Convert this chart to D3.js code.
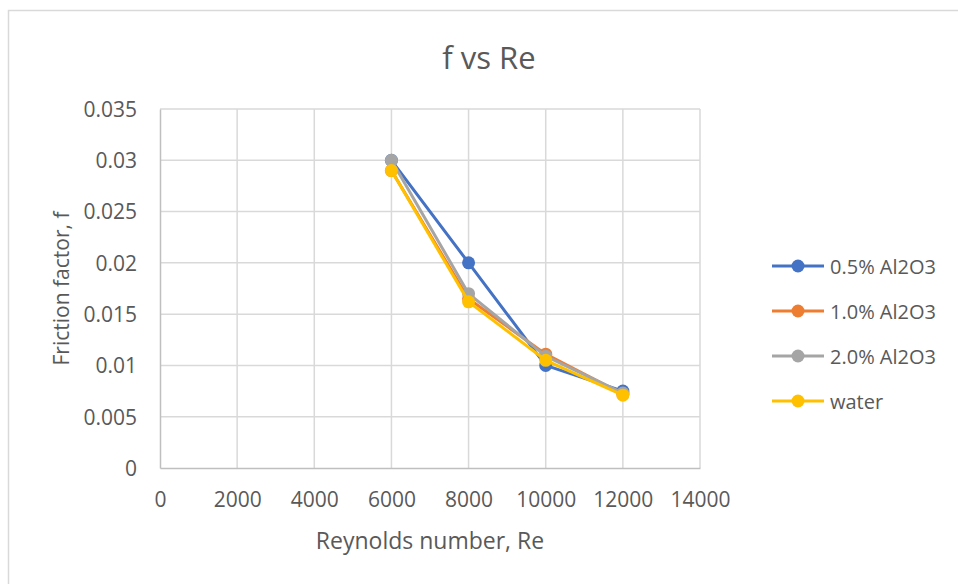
<!DOCTYPE html>
<html>
<head>
<meta charset="utf-8">
<script src="https://cdn.jsdelivr.net/npm/d3@7"></script>
<style>
  html, body { margin: 0; padding: 0; background: #ffffff; }
  svg { display: block; font-family: "Open Sans", sans-serif; }
</style>
</head>
<body>
<svg id="chart" width="958" height="584"></svg>
<script>
// Reynolds numbers tested
const reynolds = [6000, 8000, 10000, 12000];

// Friction factor per fluid
const seriesNames = ["0.5% Al2O3", "1.0% Al2O3", "2.0% Al2O3", "water"];
const al05 = [0.030, 0.020, 0.0100, 0.0075];
const al10 = [0.029, 0.0165, 0.0111, 0.0072];
const al20 = [0.030, 0.017, 0.0109, 0.0073];
const water = [0.029, 0.0162, 0.0105, 0.0071];
const seriesColors = ["#4472C4", "#ED7D31", "#A5A5A5", "#FFC000"];

// Axis ticks
const xTicks = [0, 2000, 4000, 6000, 8000, 10000, 12000, 14000];
const yTicks = [0, 0.005, 0.01, 0.015, 0.02, 0.025, 0.03, 0.035];

const series = [al05, al10, al20, water].map((vals, i) => ({
  name: seriesNames[i],
  color: seriesColors[i],
  points: vals.map((v, j) => ({ re: reynolds[j], f: v }))
}));

const textColor = "#595959";
const svg = d3.select("#chart");

// Chart frame
svg.append("rect")
  .attr("x", 8.5).attr("y", 10.5)
  .attr("width", 1000).attr("height", 1000)
  .attr("fill", "#ffffff")
  .attr("stroke", "#d9d9d9").attr("stroke-width", 1.5);

const plot = { left: 160, right: 700, top: 109, bottom: 468 };

const x = d3.scaleLinear().domain([0, 14000]).range([plot.left, plot.right]);
const y = d3.scaleLinear().domain([0, 0.035]).range([plot.bottom, plot.top]);

// Gridlines
const grid = svg.append("g");
grid.selectAll("line.v").data(xTicks.slice(1)).join("line")
  .attr("x1", d => x(d)).attr("x2", d => x(d))
  .attr("y1", plot.top).attr("y2", plot.bottom)
  .attr("stroke", "#d9d9d9").attr("stroke-width", 1.5);
grid.selectAll("line.h").data(yTicks.slice(1)).join("line")
  .attr("x1", plot.left).attr("x2", plot.right)
  .attr("y1", d => y(d)).attr("y2", d => y(d))
  .attr("stroke", "#d9d9d9").attr("stroke-width", 1.5);

// Axes
const xAxis = svg.append("g")
  .attr("transform", `translate(0,${plot.bottom})`)
  .call(d3.axisBottom(x).tickValues(xTicks).tickSize(0).tickPadding(32).tickFormat(d3.format("d")));
const yAxis = svg.append("g")
  .attr("transform", `translate(${plot.left},0)`)
  .call(d3.axisLeft(y).tickValues(yTicks).tickSize(0).tickPadding(23).tickFormat(d => d === 0 ? "0" : String(+d.toFixed(3))));

[xAxis, yAxis].forEach(g => {
  g.select(".domain").attr("stroke", "#bfbfbf").attr("stroke-width", 1.5);
  g.selectAll("text")
    .attr("fill", textColor)
    .attr("dy", "0.35em")
    .style("font-size", "21px")
    .style("font-family", "'Open Sans', sans-serif");
});

// Series lines and markers
const line = d3.line().x(d => x(d.re)).y(d => y(d.f));
const layer = svg.append("g");
series.forEach(s => {
  layer.append("path")
    .datum(s.points)
    .attr("d", line)
    .attr("fill", "none")
    .attr("stroke", s.color)
    .attr("stroke-width", 3)
    .attr("stroke-linejoin", "round");
  layer.selectAll(null).data(s.points).join("circle")
    .attr("cx", d => x(d.re)).attr("cy", d => y(d.f))
    .attr("r", 6.5)
    .attr("fill", s.color);
});

// Titles
svg.append("text")
  .attr("x", 489).attr("y", 57)
  .attr("text-anchor", "middle").attr("dominant-baseline", "central")
  .attr("fill", textColor).style("font-size", "31px")
  .text("f vs Re");

svg.append("text")
  .attr("x", 430).attr("y", 540)
  .attr("text-anchor", "middle").attr("dominant-baseline", "central")
  .attr("fill", textColor).style("font-size", "23px")
  .text("Reynolds number, Re");

svg.append("text")
  .attr("transform", `translate(61,${(plot.top + plot.bottom) / 2}) rotate(-90)`)
  .attr("text-anchor", "middle").attr("dominant-baseline", "central")
  .attr("fill", textColor).style("font-size", "21px")
  .text("Friction factor, f");

// Legend
const legend = svg.append("g");
const legendY = d3.scalePoint().domain(seriesNames).range([266, 401]);
series.forEach(s => {
  const ly = legendY(s.name);
  legend.append("line")
    .attr("x1", 772).attr("x2", 824).attr("y1", ly).attr("y2", ly)
    .attr("stroke", s.color).attr("stroke-width", 3);
  legend.append("circle")
    .attr("cx", 798).attr("cy", ly).attr("r", 6.5).attr("fill", s.color);
  legend.append("text")
    .attr("x", 830).attr("y", ly)
    .attr("dominant-baseline", "central")
    .attr("fill", textColor).style("font-size", "20px")
    .text(s.name);
});
</script>
</body>
</html>
